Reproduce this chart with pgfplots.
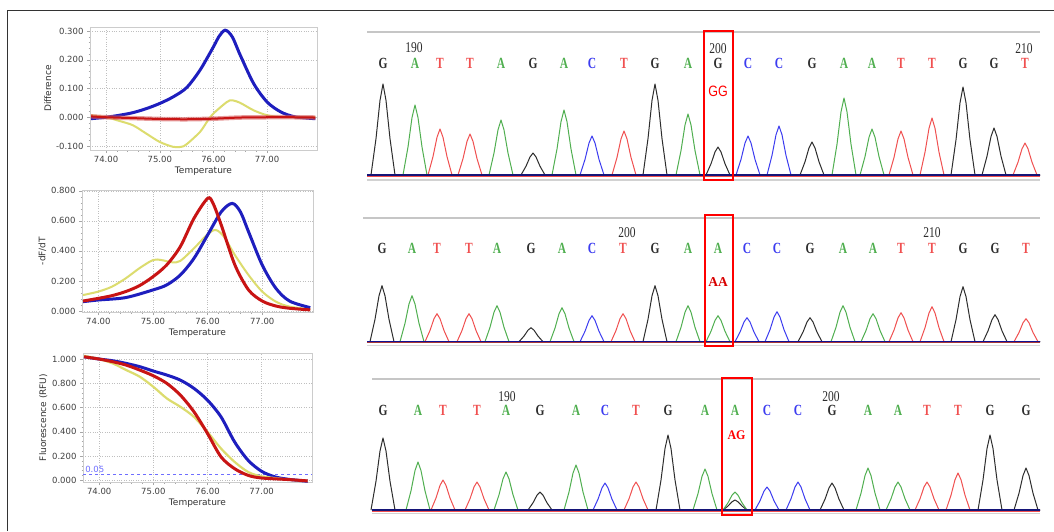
\documentclass[border=0pt]{standalone}
\usepackage{fontspec}
\setmainfont{DejaVu Sans}
\newfontfamily\chromfont{Liberation Serif}
\newfontfamily\arialfont{Liberation Sans}
\usepackage{graphicx}
\usepackage{pgfplots}
\pgfplotsset{compat=1.18}

\definecolor{mblue}{RGB}{30,30,190}
\definecolor{mred}{RGB}{200,20,20}
\definecolor{myellow}{RGB}{220,220,110}
\definecolor{thr}{RGB}{110,110,255}
\definecolor{gcol}{RGB}{45,45,45}
\definecolor{acol}{RGB}{80,175,80}
\definecolor{tcol}{RGB}{240,80,80}
\definecolor{ccol}{RGB}{60,60,240}
\definecolor{navyb}{RGB}{20,20,120}

\newcommand\bl[1]{\scalebox{1}[1.35]{\chromfont\bfseries\fontsize{11.5}{12}\selectfont #1}}
\newcommand\nl[1]{\scalebox{1}[1.3]{\chromfont\fontsize{11.5}{12}\selectfont #1}}

\pgfplotsset{
  meltplot/.style={
    scale only axis, anchor=north west,
    xmin=73.70, xmax=77.93,
    xtick={74,75,76,77},
    minor x tick num=4, minor y tick num=4,
    tick pos=left, tick align=outside,
    major tick length=3pt, minor tick length=1.5pt,
    tick style={gray!70, line width=0.5pt},
    axis line style={gray!40},
    grid=major, major grid style={dotted, gray!50},
    scaled ticks=false,
    tick label style={font=\fontsize{8.5}{10}\selectfont, text=black!75},
    label style={font=\fontsize{9}{10}\selectfont, text=black!80},
    /pgf/number format/assume math mode=true,
    xticklabel style={/pgf/number format/.cd, fixed, fixed zerofill, precision=2, /tikz/.cd},
    yticklabel style={/pgf/number format/.cd, fixed, fixed zerofill, precision=3, /tikz/.cd},
    xlabel={Temperature},
    xlabel style={yshift=3pt},
    ylabel style={yshift=-2pt},
  },
  chrom/.style={anchor=south west, x=1pt, y=1pt, xmin=367, xmax=1040,
    ymin=-6, ymax=150, hide axis, clip=false},
  pk/.style={line width=1pt, line join=round},
  base/.style 2 args={only marks, mark=none, nodes near coords={\bl{#2}},
    every node near coord/.style={anchor=center, text=#1, inner sep=0pt}},
}

\begin{document}
\begin{tikzpicture}
\useasboundingbox (0pt,0pt) rectangle (1054pt,-531pt);
\fill[white] (0pt,0pt) rectangle (1054pt,-531pt);
\draw[black!80, line width=1.5pt] (7.5pt,-531pt) -- (7.5pt,-10.5pt) -- (1054pt,-10.5pt);

% ---------- Difference ----------
\begin{axis}[meltplot, at={(90pt,-27pt)}, width=227pt, height=123pt,
  ymin=-0.114, ymax=0.314, ytick={-0.1,0,0.1,0.2,0.3}, ylabel={Difference}]
\addplot[mblue, line width=3pt, smooth] coordinates {(73.72,-0.005)(74.0,0.0)(74.25,0.007)(74.5,0.016)(74.75,0.03)(75.0,0.048)(75.25,0.071)(75.5,0.103)(75.75,0.164)(76.0,0.245)(76.1,0.28)(76.22,0.303)(76.35,0.28)(76.5,0.216)(76.75,0.117)(77.0,0.053)(77.25,0.019)(77.5,0.002)(77.75,-0.003)(77.9,-0.005)};
\addplot[myellow, line width=2pt, smooth] coordinates {(73.72,0.007)(74.0,0.0)(74.25,-0.013)(74.5,-0.028)(74.75,-0.057)(75.0,-0.086)(75.25,-0.103)(75.4,-0.103)(75.5,-0.094)(75.75,-0.051)(75.9,-0.01)(76.0,0.013)(76.25,0.053)(76.35,0.059)(76.5,0.05)(76.75,0.024)(77.0,0.007)(77.25,0.001)(77.5,0)(77.9,0)};
\addplot[mred!70, opacity=0.6, line width=4.5pt, smooth] coordinates {(73.72,0.003)(74.0,0.0)(74.5,-0.003)(75.0,-0.006)(75.5,-0.007)(76.0,-0.005)(76.5,-0.001)(77.0,0.0)(77.5,0.0)(77.9,-0.001)};
\addplot[mred, line width=2pt, smooth] coordinates {(73.72,0.003)(74.0,0.0)(74.5,-0.003)(75.0,-0.006)(75.5,-0.007)(76.0,-0.005)(76.5,-0.001)(77.0,0.0)(77.5,0.0)(77.9,-0.001)};
\end{axis}

% ---------- -dF/dT ----------
\begin{axis}[meltplot, at={(82pt,-190pt)}, width=231pt, height=122pt,
  ymin=-0.007, ymax=0.805, ytick={0,0.2,0.4,0.6,0.8}, ylabel={-dF/dT}]
\addplot[myellow, line width=2pt, smooth] coordinates {(73.72,0.106)(74.0,0.129)(74.25,0.162)(74.5,0.217)(74.75,0.284)(75.0,0.339)(75.15,0.339)(75.35,0.324)(75.5,0.333)(75.75,0.417)(76.0,0.51)(76.15,0.539)(76.3,0.494)(76.5,0.372)(76.75,0.239)(77.0,0.129)(77.25,0.062)(77.5,0.029)(77.88,0.011)};
\addplot[mblue, line width=3pt, smooth] coordinates {(73.72,0.062)(74.0,0.073)(74.5,0.089)(75.0,0.14)(75.25,0.173)(75.5,0.239)(75.75,0.35)(76.0,0.505)(76.25,0.66)(76.45,0.716)(76.6,0.66)(76.75,0.527)(77.0,0.306)(77.25,0.151)(77.5,0.066)(77.88,0.022)};
\addplot[mred, line width=3pt, smooth] coordinates {(73.72,0.066)(74.0,0.084)(74.25,0.102)(74.5,0.129)(74.75,0.168)(75.0,0.228)(75.25,0.306)(75.5,0.428)(75.75,0.616)(76.0,0.749)(76.1,0.716)(76.25,0.572)(76.5,0.306)(76.75,0.14)(77.0,0.066)(77.25,0.033)(77.5,0.018)(77.88,0.007)};
\end{axis}

% ---------- Fluorescence ----------
\begin{axis}[meltplot, at={(83pt,-353pt)}, width=229pt, height=129pt,
  ymin=-0.014, ymax=1.05, ytick={0,0.2,0.4,0.6,0.8,1.0}, ylabel={Fluorescence (RFU)}]
\addplot[thr, dashed, line width=1pt] coordinates {(73.70,0.05)(77.93,0.05)};
\node[text=thr, anchor=south west, inner sep=1pt, font=\fontsize{8.5}{9}\selectfont] at (axis cs:73.72,0.05) {0.05};
\addplot[mblue, line width=3pt, smooth] coordinates {(73.72,1.019)(74.0,1.0)(74.25,0.986)(74.5,0.964)(74.75,0.937)(75.0,0.901)(75.25,0.868)(75.5,0.826)(75.75,0.758)(76.0,0.661)(76.25,0.523)(76.5,0.317)(76.75,0.165)(77.0,0.074)(77.25,0.028)(77.5,0.008)(77.85,-0.008)};
\addplot[myellow, line width=2.2pt, smooth] coordinates {(73.72,1.027)(74.0,1.0)(74.25,0.964)(74.5,0.909)(74.75,0.854)(75.0,0.771)(75.25,0.675)(75.5,0.606)(75.75,0.523)(76.0,0.399)(76.25,0.262)(76.5,0.152)(76.75,0.069)(77.0,0.033)(77.5,0.006)(77.85,-0.005)};
\addplot[mred, line width=3pt, smooth] coordinates {(73.72,1.019)(74.0,1.0)(74.25,0.978)(74.5,0.950)(74.75,0.909)(75.0,0.862)(75.25,0.799)(75.5,0.702)(75.75,0.565)(76.0,0.386)(76.25,0.193)(76.5,0.096)(76.75,0.041)(77.0,0.019)(77.5,0.006)(77.85,-0.005)};
\end{axis}

% ---------- Chromatogram GG ----------
\begin{axis}[chrom, at={(367pt,-181pt)}]
\draw[gray!45, line width=1.5pt] (axis cs:367,143) -- (axis cs:1040,143);
\draw[gray!35, line width=1.5pt] (axis cs:367,-5) -- (axis cs:1040,-5);
\addplot[pk, gcol] coordinates {(367,0)(371,0)(376,36.4)(380,74.6)(383,91)(386,74.6)(390,36.4)(395,0)(521,0)(526,8.8)(530,18)(533,22)(536,18)(540,8.8)(545,0)(643,0)(648,36.4)(652,74.6)(655,91)(658,74.6)(662,36.4)(667,0)(706,0)(711,11.2)(715,23)(718,28)(721,23)(725,11.2)(730,0)(800,0)(805,13.2)(809,27.1)(812,33)(815,27.1)(819,13.2)(824,0)(951,0)(956,35.2)(960,72.2)(963,88)(966,72.2)(970,35.2)(975,0)(982,0)(987,18.8)(991,38.5)(994,47)(997,38.5)(1001,18.8)(1006,0)(1040,0)};
\addplot[pk, acol] coordinates {(367,0)(403,0)(408,28)(412,57.4)(415,70)(418,57.4)(422,28)(427,0)(489,0)(494,22)(498,45.1)(501,55)(504,45.1)(508,22)(513,0)(552,0)(557,26)(561,53.3)(564,65)(567,53.3)(571,26)(576,0)(676,0)(681,24.4)(685,50)(688,61)(691,50)(695,24.4)(700,0)(832,0)(837,30.8)(841,63.1)(844,77)(847,63.1)(851,30.8)(856,0)(860,0)(865,18.4)(869,37.7)(872,46)(875,37.7)(879,18.4)(884,0)(1040,0)};
\addplot[pk, tcol] coordinates {(367,0)(428,0)(433,18.4)(437,37.7)(440,46)(443,37.7)(447,18.4)(452,0)(458,0)(463,16.4)(467,33.6)(470,41)(473,33.6)(477,16.4)(482,0)(612,0)(617,17.6)(621,36.1)(624,44)(627,36.1)(631,17.6)(636,0)(889,0)(894,17.6)(898,36.1)(901,44)(904,36.1)(908,17.6)(913,0)(920,0)(925,22.8)(929,46.7)(932,57)(935,46.7)(939,22.8)(944,0)(1013,0)(1018,12.8)(1022,26.2)(1025,32)(1028,26.2)(1032,12.8)(1037,0)(1040,0)};
\addplot[pk, ccol] coordinates {(367,0)(580,0)(585,15.6)(589,32)(592,39)(595,32)(599,15.6)(604,0)(736,0)(741,15.6)(745,32)(748,39)(751,32)(755,15.6)(760,0)(767,0)(772,19.6)(776,40.2)(779,49)(782,40.2)(786,19.6)(791,0)(1040,0)};
\addplot[tcol, line width=2.2pt] coordinates {(367,-0.6)(1040,-0.6)};
\addplot[navyb, line width=1.4pt] coordinates {(367,0)(1040,0)};
\addplot[base={gcol}{G}] coordinates {(383,111.5)(533,111.5)(655,111.5)(718,111.5)(812,111.5)(963,111.5)(994,111.5)};
\addplot[base={acol}{A}] coordinates {(415,111.5)(501,111.5)(564,111.5)(688,111.5)(844,111.5)(872,111.5)};
\addplot[base={tcol}{T}] coordinates {(440,111.5)(470,111.5)(624,111.5)(901,111.5)(932,111.5)(1025,111.5)};
\addplot[base={ccol}{C}] coordinates {(592,111.5)(748,111.5)(779,111.5)};
\node[text=gcol] at (axis cs:414,127) {\nl{190}};
\node[text=gcol] at (axis cs:718,126) {\nl{200}};
\node[text=gcol] at (axis cs:1024,126) {\nl{210}};
\node[text=red] at (axis cs:718,83.3) {\scalebox{1}[1.2]{\arialfont\fontsize{12.5}{13}\selectfont GG}};
\draw[red, line width=2.5pt] (axis cs:704,-5) rectangle (axis cs:733,144);
\end{axis}

% ---------- Chromatogram AA ----------
\begin{axis}[chrom, at={(367pt,-347.7pt)}]
\draw[gray!45, line width=1.5pt] (axis cs:363,123.7) -- (axis cs:1040,123.7);
\draw[gray!30, line width=1pt] (axis cs:367,-3.5) -- (axis cs:1040,-3.5);
\addplot[pk, gcol] coordinates {(367,0)(370,0)(375,22.4)(379,45.9)(382,56)(385,45.9)(389,22.4)(394,0)(519,0)(524,5.6)(528,11.5)(531,14)(534,11.5)(538,5.6)(543,0)(643,0)(648,22.4)(652,45.9)(655,56)(658,45.9)(662,22.4)(667,0)(798,0)(803,9.6)(807,19.7)(810,24)(813,19.7)(817,9.6)(822,0)(951,0)(956,22)(960,45.1)(963,55)(966,45.1)(970,22)(975,0)(983,0)(988,10.8)(992,22.1)(995,27)(998,22.1)(1002,10.8)(1007,0)(1040,0)};
\addplot[pk, acol] coordinates {(367,0)(400,0)(405,18.4)(409,37.7)(412,46)(415,37.7)(419,18.4)(424,0)(485,0)(490,14.4)(494,29.5)(497,36)(500,29.5)(504,14.4)(509,0)(550,0)(555,13.6)(559,27.9)(562,34)(565,27.9)(569,13.6)(574,0)(676,0)(681,14.4)(685,29.5)(688,36)(691,29.5)(695,14.4)(700,0)(706,0)(711,10.4)(715,21.3)(718,26)(721,21.3)(725,10.4)(730,0)(831,0)(836,14.4)(840,29.5)(843,36)(846,29.5)(850,14.4)(855,0)(861,0)(866,11.2)(870,23)(873,28)(876,23)(880,11.2)(885,0)(1040,0)};
\addplot[pk, tcol] coordinates {(367,0)(425,0)(430,11.2)(434,23)(437,28)(440,23)(444,11.2)(449,0)(457,0)(462,11.2)(466,23)(469,28)(472,23)(476,11.2)(481,0)(611,0)(616,11.2)(620,23)(623,28)(626,23)(630,11.2)(635,0)(889,0)(894,11.6)(898,23.8)(901,29)(904,23.8)(908,11.6)(913,0)(920,0)(925,14)(929,28.7)(932,35)(935,28.7)(939,14)(944,0)(1014,0)(1019,9.2)(1023,18.9)(1026,23)(1029,18.9)(1033,9.2)(1038,0)(1040,0)};
\addplot[pk, ccol] coordinates {(367,0)(580,0)(585,10.4)(589,21.3)(592,26)(595,21.3)(599,10.4)(604,0)(735,0)(740,9.6)(744,19.7)(747,24)(750,19.7)(754,9.6)(759,0)(765,0)(770,12)(774,24.6)(777,30)(780,24.6)(784,12)(789,0)(1040,0)};
\addplot[tcol!70!black, line width=1.8pt] coordinates {(367,-0.5)(1040,-0.5)};
\addplot[navyb!80!blue, line width=1.2pt] coordinates {(367,0)(1040,0)};
\addplot[base={gcol}{G}] coordinates {(382,93.7)(531,93.7)(655,93.7)(810,93.7)(963,93.7)(995,93.7)};
\addplot[base={acol}{A}] coordinates {(412,93.7)(497,93.7)(562,93.7)(688,93.7)(718,93.7)(843,93.7)(873,93.7)};
\addplot[base={tcol}{T}] coordinates {(437,93.7)(469,93.7)(623,93.7)(901,93.7)(932,93.7)(1026,93.7)};
\addplot[base={ccol}{C}] coordinates {(592,93.7)(747,93.7)(777,93.7)};
\node[text=gcol] at (axis cs:627,108.7) {\nl{200}};
\node[text=gcol] at (axis cs:932,108.7) {\nl{210}};
\node[text=red!85!black] at (axis cs:718,60) {\chromfont\bfseries\fontsize{13.5}{14}\selectfont AA};
\draw[red, line width=2.5pt] (axis cs:705,-4.3) rectangle (axis cs:733,126.7);
\end{axis}

% ---------- Chromatogram AG ----------
\begin{axis}[chrom, at={(367pt,-516pt)}]
\draw[gray!45, line width=1.5pt] (axis cs:372,131) -- (axis cs:1040,131);
\draw[gray!35, line width=1.5pt] (axis cs:372,-3.5) -- (axis cs:1040,-3.5);
\addplot[pk, gcol] coordinates {(371,0)(376,28.8)(380,59)(383,72)(386,59)(390,28.8)(395,0)(528,0)(533,7.2)(537,14.8)(540,18)(543,14.8)(547,7.2)(552,0)(656,0)(661,30)(665,61.5)(668,75)(671,61.5)(675,30)(680,0)(723,0)(728,4)(732,8.2)(735,10)(738,8.2)(742,4)(747,0)(820,0)(825,10.8)(829,22.1)(832,27)(835,22.1)(839,10.8)(844,0)(978,0)(983,30)(987,61.5)(990,75)(993,61.5)(997,30)(1002,0)(1014,0)(1019,16.8)(1023,34.4)(1026,42)(1029,34.4)(1033,16.8)(1038,0)(1040,0)};
\addplot[pk, acol] coordinates {(372,0)(406,0)(411,19.2)(415,39.4)(418,48)(421,39.4)(425,19.2)(430,0)(494,0)(499,15.2)(503,31.2)(506,38)(509,31.2)(513,15.2)(518,0)(564,0)(569,18)(573,36.9)(576,45)(579,36.9)(583,18)(588,0)(693,0)(698,16.4)(702,33.6)(705,41)(708,33.6)(712,16.4)(717,0)(723,0)(728,7.2)(732,14.8)(735,18)(738,14.8)(742,7.2)(747,0)(856,0)(861,16.8)(865,34.4)(868,42)(871,34.4)(875,16.8)(880,0)(886,0)(891,11.2)(895,23)(898,28)(901,23)(905,11.2)(910,0)(1040,0)};
\addplot[pk, tcol] coordinates {(372,0)(431,0)(436,12)(440,24.6)(443,30)(446,24.6)(450,12)(455,0)(465,0)(470,11.2)(474,23)(477,28)(480,23)(484,11.2)(489,0)(624,0)(629,11.2)(633,23)(636,28)(639,23)(643,11.2)(648,0)(915,0)(920,11.2)(924,23)(927,28)(930,23)(934,11.2)(939,0)(946,0)(951,14.8)(955,30.3)(958,37)(961,30.3)(965,14.8)(970,0)(1040,0)};
\addplot[pk, ccol] coordinates {(372,0)(593,0)(598,10.8)(602,22.1)(605,27)(608,22.1)(612,10.8)(617,0)(755,0)(760,9.2)(764,18.9)(767,23)(770,18.9)(774,9.2)(779,0)(786,0)(791,11.2)(795,23)(798,28)(801,23)(805,11.2)(810,0)(1040,0)};
\addplot[tcol, line width=2pt] coordinates {(372,-0.6)(1040,-0.6)};
\addplot[navyb, line width=1.4pt] coordinates {(372,0)(1040,0)};
\addplot[base={gcol}{G}] coordinates {(383,100)(540,100)(668,100)(832,100)(990,100)(1026,100)};
\addplot[base={acol}{A}] coordinates {(418,100)(506,100)(576,100)(705,100)(735,100)(868,100)(898,100)};
\addplot[base={tcol}{T}] coordinates {(443,100)(477,100)(636,100)(927,100)(958,100)};
\addplot[base={ccol}{C}] coordinates {(605,100)(767,100)(798,100)};
\node[text=gcol] at (axis cs:507,113.3) {\nl{190}};
\node[text=gcol] at (axis cs:831,113.3) {\nl{200}};
\node[text=red] at (axis cs:736.5,75) {\scalebox{1}[1.1]{\chromfont\bfseries\fontsize{12}{13}\selectfont AG}};
\draw[red, line width=2.5pt] (axis cs:722,-5) rectangle (axis cs:752,132);
\end{axis}
\end{tikzpicture}
\end{document}
